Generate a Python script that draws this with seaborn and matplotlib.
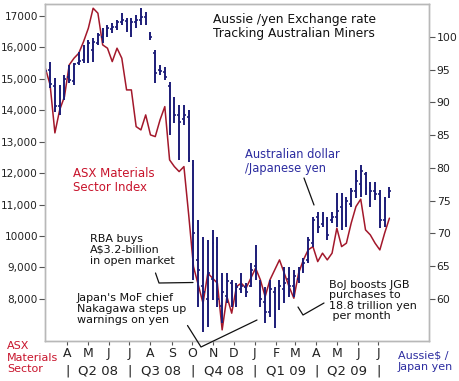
import numpy as np
import pandas as pd
import matplotlib
matplotlib.use("Agg")
import matplotlib.pyplot as plt
import matplotlib.dates as mdates
from matplotlib.lines import Line2D
import seaborn as sns

sns.set_style("white")
plt.rcParams['font.family'] = ['DejaVu Sans']

# Weekly data, end of Feb 2008 to mid July 2009
weeks = pd.date_range("2008-02-29", periods=73, freq="7D")

# ASX Materials Sector Index (left axis)
asx_materials = [15338, 14807, 13280, 14011, 14434, 15443, 15656, 15815, 16184, 16610,
                 17246, 17087, 16079, 15974, 15548, 15974, 15656, 14647, 14647, 13480,
                 13375, 13852, 13216, 13162, 13693, 14116, 12421, 12208, 12049, 12208,
                 10672, 9027, 8445, 7863, 8817, 8658, 8499, 7014, 8073, 7545,
                 8391, 8499, 8340, 8658, 8976, 8604, 8073, 8604, 8922, 9240,
                 8817, 8391, 8022, 8817, 9240, 9558, 9663, 9186, 9454, 9240,
                 9454, 10249, 9663, 9772, 10408, 10936, 11171, 10195, 10036, 9772,
                 9558, 10090, 10567]

# Aussie / yen weekly bars (right axis)
aud_high = [97.5, 96.1, 93.7, 92.6, 94.2, 95.7, 96.0, 97.7, 98.7, 99.5,
            99.8, 100.6, 101.3, 101.8, 102.1, 102.5, 103.6, 102.8, 102.8, 103.3,
            104.4, 103.8, 100.7, 98.0, 95.7, 95.4, 93.1, 90.8, 89.6, 89.6,
            88.8, 81.2, 72.0, 69.5, 69.0, 70.5, 69.5, 64.0, 64.0, 62.9,
            62.4, 64.0, 62.4, 65.5, 68.2, 62.9, 61.8, 62.9, 61.8, 62.9,
            64.9, 64.9, 64.4, 64.9, 66.2, 69.5, 72.5, 73.3, 73.3, 72.5,
            73.3, 76.2, 76.2, 75.5, 76.9, 79.7, 80.4, 79.4, 77.8, 77.8,
            76.6, 75.5, 77.1]
aud_low = [94.0, 92.2, 88.5, 88.0, 90.3, 92.9, 92.6, 95.7, 96.0, 96.0,
           96.1, 98.7, 99.0, 100.0, 100.6, 101.0, 101.8, 100.7, 100.0, 101.3,
           101.8, 101.8, 99.5, 92.9, 94.2, 93.4, 85.0, 86.8, 81.2, 86.5,
           80.9, 62.9, 58.8, 55.0, 55.7, 59.9, 58.8, 56.3, 59.4, 58.8,
           58.8, 60.9, 60.3, 61.8, 62.9, 58.8, 56.3, 57.3, 55.6, 58.3,
           59.4, 60.3, 60.3, 62.4, 64.0, 65.5, 67.9, 70.1, 71.0, 69.0,
           71.6, 71.0, 70.5, 71.0, 74.0, 75.4, 75.5, 75.9, 74.0, 75.1,
           70.8, 71.0, 75.4]
aud_open = [96.5, 95.0, 92.5, 89.5, 91.2, 93.8, 93.2, 96.0, 96.5, 97.0,
            98.0, 99.0, 100.0, 100.5, 101.2, 101.5, 102.2, 102.4, 101.0, 102.2,
            102.5, 103.0, 100.5, 97.5, 95.0, 94.6, 92.5, 88.5, 88.0, 87.5,
            87.8, 80.5, 66.0, 62.0, 60.0, 63.0, 68.0, 59.0, 60.5, 62.5,
            60.5, 61.5, 61.8, 62.0, 65.0, 62.5, 59.5, 58.0, 61.0, 58.5,
            61.5, 63.0, 62.0, 63.0, 64.5, 66.0, 68.5, 72.5, 71.5, 72.0,
            72.0, 72.5, 74.0, 72.0, 74.5, 76.5, 77.5, 79.0, 77.0, 76.5,
            76.0, 72.0, 75.5]
aud_close = [94.8, 92.8, 89.5, 91.5, 93.6, 93.4, 95.9, 96.3, 97.2, 99.0,
             99.2, 100.2, 100.5, 101.3, 101.5, 102.2, 102.5, 101.2, 102.3, 102.6,
             103.0, 102.0, 99.9, 94.5, 94.8, 93.8, 86.5, 88.0, 87.0, 88.0,
             81.5, 70.0, 64.5, 61.0, 64.0, 68.5, 60.0, 61.0, 62.8, 60.5,
             61.8, 62.0, 61.0, 64.5, 64.0, 60.0, 58.0, 61.5, 57.5, 62.0,
             62.5, 62.0, 63.5, 64.0, 65.5, 69.0, 72.0, 71.0, 72.8, 69.8,
             72.5, 73.5, 71.5, 75.0, 76.5, 78.0, 79.5, 77.0, 76.5, 76.0,
             72.0, 75.0, 76.5]

month_letters = ["A", "M", "J", "J", "A", "S", "O", "N", "D", "J", "F", "M", "A", "M", "J", "J"]
quarters = ["Q2 08", "Q3 08", "Q4 08", "Q1 09", "Q2 09"]
left_ticks = [8000, 9000, 10000, 11000, 12000, 13000, 14000, 15000, 16000, 17000]
left_labels = ["8,000", "9,000", "10000", "11,000", "12,000", "13,000", "14,000", "15,000", "16,000", "17000"]
right_ticks = [60, 65, 70, 75, 80, 85, 90, 95, 100]

red_line = "#a3182b"
red_text = "#c8142c"
navy = "#1c1c78"
blue_text = "#2c2ca0"
frame = "#b8b8b8"

W, H = 460, 381
fig = plt.figure(figsize=(W / 100, H / 100), dpi=100)
ax = fig.add_axes([45 / W, 1 - 341 / H, (429 - 45) / W, (341 - 4) / H])
ax2 = ax.twinx()

# red index line
sns.lineplot(x=weeks, y=asx_materials, ax=ax, color=red_line, lw=1.1)

# blue OHLC bars
xn = mdates.date2num(weeks)
tick_w = 2.6
ax2.vlines(xn, aud_low, aud_high, color=navy, lw=1.4)
ax2.hlines(aud_open, xn - tick_w, xn, color=navy, lw=1.2)
ax2.hlines(aud_close, xn, xn + tick_w, color=navy, lw=1.2)

x0 = mdates.date2num(pd.Timestamp("2008-02-29")) - 0.5
x1 = mdates.date2num(pd.Timestamp("2009-09-13"))
ax.set_xlim(x0, x1)
ax.set_ylim(6660, 17380)
ax2.set_ylim(53.6, 105.0)

ax.set_yticks(left_ticks)
ax.set_yticklabels(left_labels)
ax2.set_yticks(right_ticks)
ax2.set_yticklabels([str(v) for v in right_ticks])

months = mdates.date2num(pd.date_range("2008-04-01", "2009-07-01", freq="MS"))
ax.set_xticks(months)
ax.set_xticklabels(month_letters)
ax.set_xlabel("")
ax.set_ylabel("")

ax.tick_params(axis="y", direction="out", length=4, width=0.8, color="#555555",
               labelsize=7.6, pad=1, labelcolor="#222222", left=True)
ax.tick_params(axis="x", direction="out", length=3, width=0.8, color="#555555",
               labelsize=9, pad=1.5, labelcolor="#222222", bottom=True)
ax2.tick_params(axis="y", direction="out", length=4, width=0.8, color="#555555",
                labelsize=7.8, pad=1.5, labelcolor="#222222", right=True)

for a in (ax, ax2):
    for s in a.spines.values():
        s.set_color(frame)
        s.set_linewidth(1.0)
    a.grid(False)

# quarter row under the months
qstarts = mdates.date2num(pd.date_range("2008-04-01", periods=6, freq="QS"))
tr = ax.get_xaxis_transform()
for q in qstarts:
    ax.text(q, -0.088, "|", transform=tr, ha="center", va="center", fontsize=9.5, color="#222222")
for i, lab in enumerate(quarters):
    ax.text((qstarts[i] + qstarts[i + 1]) / 2, -0.088, lab, transform=tr,
            ha="center", va="center", fontsize=9.5, color="#222222")


def ftext(x, y, s, **kw):
    fig.text(x / W, 1 - y / H, s, va="top", ha="left", **kw)


def fline(pts):
    xs = [p[0] / W for p in pts]
    ys = [1 - p[1] / H for p in pts]
    fig.add_artist(Line2D(xs, ys, color="#111111", lw=0.9))


ftext(213, 13, "Aussie /yen Exchange rate\nTracking Australian Miners", fontsize=8.8,
      color="#111111", linespacing=1.15)
ftext(73, 167, "ASX Materials\nSector Index", fontsize=8.5, color=red_text, linespacing=1.1)
ftext(245, 148, "Australian dollar\n/Japanese yen", fontsize=8.3, color=blue_text, linespacing=1.1)
ftext(90, 234, "RBA buys\nA$3.2-billion\nin open market", fontsize=8.0, color="#111111", linespacing=1.1)
ftext(77, 293, "Japan's MoF chief\nNakagawa steps up\nwarnings on yen", fontsize=8.0,
      color="#111111", linespacing=1.1)
ftext(329, 280, "BoJ boosts JGB\npurchases to\n18.8 trillion yen\n per month", fontsize=8.0,
      color="#111111", linespacing=1.05)
ftext(7, 341, "ASX\nMaterials\nSector", fontsize=8.0, color=red_text, linespacing=1.2)
ftext(398, 351, "Aussie$ /\nJapan yen", fontsize=8.0, color=blue_text, linespacing=1.1)

fline([(155.5, 273), (159, 283), (193, 282.5)])
fline([(187.5, 325.5), (201, 347), (257, 320)])
fline([(298, 307), (303, 315), (324, 303)])
fline([(304, 178), (314, 205)])

fig.savefig("out.png", dpi=100)
